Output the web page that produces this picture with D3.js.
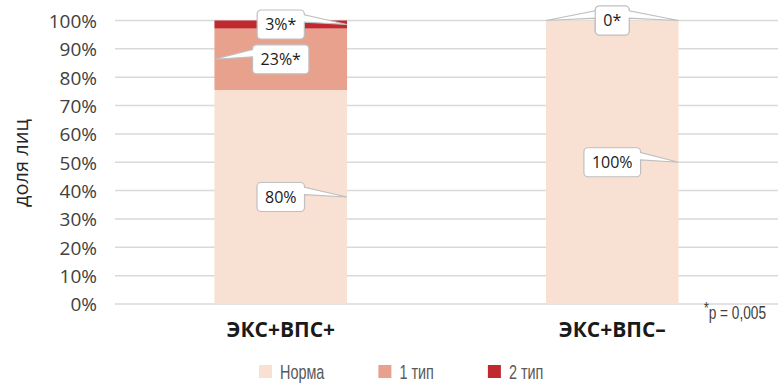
<!DOCTYPE html>
<html>
<head>
<meta charset="utf-8">
<script src="https://cdn.jsdelivr.net/npm/d3@7"></script>
<style>
  html, body { margin: 0; padding: 0; background: #fff; }
  svg { display: block; }
</style>
</head>
<body>
<svg id="chart" width="784" height="385"></svg>
<script>
// Groups on the x axis
const categories = ["ЭКС+ВПС+", "ЭКС+ВПС–"];
// Series (stack order, bottom to top)
const seriesNames = ["Норма", "1 тип", "2 тип"];
// Values per group for each series
const normaValues = [80, 100];
const type1Values = [23, 0];
const type2Values = [3, 0];
// Texts shown in the callouts for each series
const normaLabels = ["80%", "100%"];
const type1Labels = ["23%*", "0*"];
const type2Labels = ["3%*", "0*"];
// Axis ticks
const yTicks = [0, 0.1, 0.2, 0.3, 0.4, 0.5, 0.6, 0.7, 0.8, 0.9, 1.0];
const yTitle = "доля лиц";
const footnote = "p = 0,005";

const colors = ["#f8e0d3", "#e8a18d", "#c0292e"];

const rows = categories.map((c, i) => ({
  cat: c,
  "Норма": normaValues[i],
  "1 тип": type1Values[i],
  "2 тип": type2Values[i]
}));
const labelTexts = { "Норма": normaLabels, "1 тип": type1Labels, "2 тип": type2Labels };

const svg = d3.select("#chart");
const plot = { left: 115, right: 778, top: 20.5, bottom: 304 };
const narrowFont = "'Liberation Sans', Arial, sans-serif";

const x = d3.scaleBand().domain(categories)
  .range([plot.left, plot.right]).paddingInner(0.6).paddingOuter(0.3);
const y = d3.scaleLinear().domain([0, 1]).range([plot.bottom, plot.top]);
const color = d3.scaleOrdinal().domain(seriesNames).range(colors);

const stacked = d3.stack().keys(seriesNames).offset(d3.stackOffsetExpand)(rows);

// Horizontal gridlines
svg.append("g").selectAll("line").data(yTicks).join("line")
  .attr("x1", plot.left).attr("x2", plot.right)
  .attr("y1", d => y(d)).attr("y2", d => y(d))
  .attr("stroke", "#d9d9d9").attr("stroke-width", 1.5);

// Stacked bars
svg.append("g").selectAll("g").data(stacked).join("g")
  .attr("fill", d => color(d.key))
  .selectAll("rect").data(d => d).join("rect")
  .attr("x", d => x(d.data.cat))
  .attr("width", x.bandwidth())
  .attr("y", d => y(d[1]))
  .attr("height", d => y(d[0]) - y(d[1]));

// Y axis tick labels
const yAxis = d3.axisLeft(y).tickValues(yTicks).tickFormat(d3.format(".0%")).tickSize(0).tickPadding(0);
const yg = svg.append("g").attr("transform", "translate(97,0)").call(yAxis);
yg.select(".domain").remove();
yg.selectAll("text")
  .attr("font-family", "'Open Sans', sans-serif")
  .attr("font-size", 19)
  .attr("fill", "#404040")
  .attr("dy", "0.36em");

// Y axis title
svg.append("text")
  .attr("transform", "translate(28,163) rotate(-90)")
  .attr("text-anchor", "middle")
  .attr("font-family", "'Open Sans', sans-serif")
  .attr("font-size", 20)
  .attr("fill", "#262626")
  .text(yTitle);

// Category labels
const xAxis = d3.axisBottom(x).tickSize(0).tickPadding(0);
const xg = svg.append("g").attr("transform", `translate(0,${plot.bottom})`).call(xAxis);
xg.select(".domain").remove();
xg.selectAll("text")
  .attr("y", 33)
  .attr("dy", 0)
  .attr("font-family", "'Open Sans', sans-serif")
  .attr("font-weight", "bold")
  .attr("font-size", 21)
  .attr("fill", "#1a1a1a");

// Footnote, set in a condensed face (horizontal squeeze)
const fn = svg.append("text")
  .attr("transform", "translate(766,319) scale(0.76,1)")
  .attr("text-anchor", "end")
  .attr("font-family", narrowFont)
  .attr("font-size", 18)
  .attr("fill", "#404040");
fn.append("tspan").attr("font-size", 16).attr("dy", -5).text("*");
fn.append("tspan").attr("dy", 5).text(footnote);

// Callout shape: rounded box with a wedge pointing to the anchor
function calloutPath(l, t, w, h, ax, ay, rad) {
  const r = l + w, b = t + h, hc = l + w / 2, vc = t + h / 2;
  const dxPos = ax - hc, dyPos = ay - vc;
  const dq = dxPos * h / w;
  const dz = Math.abs(dq) - Math.abs(dyPos);
  const x1 = l + w * (dxPos > 0 ? 7 : 2) / 12, x2 = l + w * (dxPos > 0 ? 10 : 5) / 12;
  const y1 = t + h * (dyPos > 0 ? 7 : 2) / 12, y2 = t + h * (dyPos > 0 ? 10 : 5) / 12;
  const side = dz > 0 ? (dxPos > 0 ? "right" : "left") : (dyPos > 0 ? "bottom" : "top");
  const p = d3.path();
  p.moveTo(l + rad, t);
  if (side === "top") { p.lineTo(x1, t); p.lineTo(ax, ay); p.lineTo(x2, t); }
  p.lineTo(r - rad, t);
  p.arcTo(r, t, r, t + rad, rad);
  if (side === "right") { p.lineTo(r, y1); p.lineTo(ax, ay); p.lineTo(r, y2); }
  p.lineTo(r, b - rad);
  p.arcTo(r, b, r - rad, b, rad);
  if (side === "bottom") { p.lineTo(x2, b); p.lineTo(ax, ay); p.lineTo(x1, b); }
  p.lineTo(l + rad, b);
  p.arcTo(l, b, l, b - rad, rad);
  if (side === "left") { p.lineTo(l, y2); p.lineTo(ax, ay); p.lineTo(l, y1); }
  p.lineTo(l, t + rad);
  p.arcTo(l, t, l + rad, t, rad);
  p.closePath();
  return p.toString();
}

// Which edge of the bar each callout points to, per series and group
const anchorEdge = {
  "Норма": ["right", "right"],
  "1 тип": ["left", "left"],
  "2 тип": ["right", "right"]
};

const callouts = [];
stacked.forEach(s => {
  s.forEach((d, i) => {
    const cx = x(d.data.cat) + x.bandwidth() / 2;
    const ay = y((d[0] + d[1]) / 2);
    const edge = anchorEdge[s.key][i];
    const ax = edge === "right" ? x(d.data.cat) + x.bandwidth() : x(d.data.cat);
    callouts.push({ text: labelTexts[s.key][i], cx, ax, ay });
  });
});

const cg = svg.append("g");
callouts.forEach(c => {
  const g = cg.append("g");
  const path = g.append("path");
  const txt = g.append("text")
    .attr("x", c.cx).attr("y", c.ay)
    .attr("dy", "0.36em")
    .attr("text-anchor", "middle")
    .attr("font-family", "'Open Sans', sans-serif")
    .attr("font-size", 16)
    .attr("fill", "#1a1a1a")
    .text(c.text);
  const tw = txt.node().getComputedTextLength();
  const w = tw + 16, h = 29;
  path.attr("d", calloutPath(c.cx - w / 2, c.ay - h / 2, w, h, c.ax, c.ay, 4))
    .attr("fill", "#fff")
    .attr("stroke", "#bfbfbf")
    .attr("stroke-width", 1.2);
});

// Legend
const squeeze = 0.74;
const legend = svg.append("g").attr("transform", "translate(259,365)");
let lx = 0;
seriesNames.forEach(name => {
  const item = legend.append("g").attr("transform", `translate(${lx},0)`);
  item.append("rect").attr("width", 13).attr("height", 13).attr("fill", color(name));
  const t = item.append("text")
    .attr("transform", `translate(21,14) scale(${squeeze},1)`)
    .attr("font-family", narrowFont)
    .attr("font-size", 19.5)
    .attr("fill", "#595959")
    .text(name);
  lx += 21 + t.node().getComputedTextLength() * squeeze + 54;
});
</script>
</body>
</html>
